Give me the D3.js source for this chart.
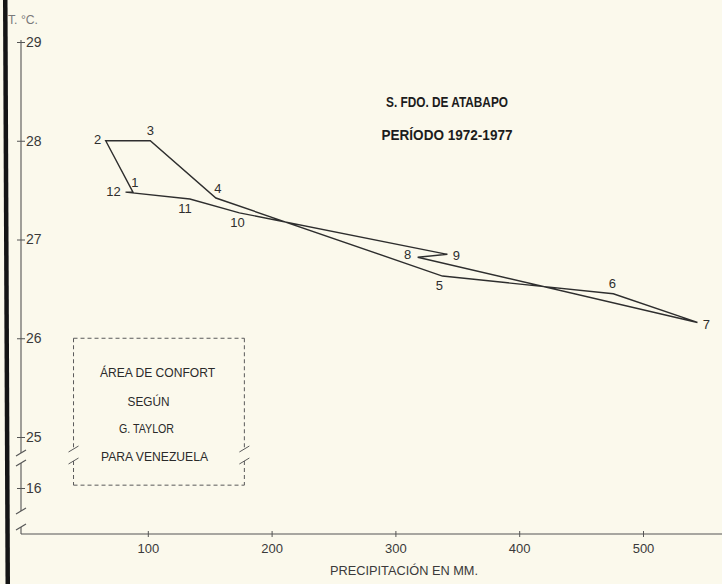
<!DOCTYPE html>
<html>
<head>
<meta charset="utf-8">
<script src="https://cdn.jsdelivr.net/npm/d3@7/dist/d3.min.js"></script>
<style>
  body { margin: 0; background: #fbf9ec; }
  svg { display: block; }
</style>
</head>
<body>
<svg width="722" height="584"></svg>
<script>
// monthly means, S. Fdo. de Atabapo 1972-1977
var months = ["1", "2", "3", "4", "5", "6", "7", "8", "9", "10", "11", "12"];
var precipitation = [88, 66, 102, 155, 338, 476, 544, 318, 342, 174, 134, 82];
var temperature = [27.48, 28.0, 28.0, 27.42, 26.63, 26.45, 26.16, 26.82, 26.85, 27.27, 27.41, 27.48];

var xTicks = [100, 200, 300, 400, 500];
var yTicks = [16, 25, 26, 27, 28, 29];

// comfort area (G. Taylor)
var comfortPrecip = [40, 178];
var comfortTemp = [16.5, 26];
var comfortText = ["ÁREA DE CONFORT", "SEGÚN", "G. TAYLOR", "PARA VENEZUELA"];

var titleLines = ["S. FDO. DE ATABAPO", "PERÍODO 1972-1977"];
var xTitle = "PRECIPITACIÓN EN MM.";
var yTitle = "T. °C.";

var drawClimograph = function() {
  let svg = d3.select("svg");
  let ink = "#2e2e2e";
  let font = "'Liberation Sans', Arial, sans-serif";

  svg.append("rect")
    .attr("width", 722).attr("height", 584)
    .attr("fill", "#fbf9ec");

  // dark page edge on the left of the scan
  svg.append("path")
    .attr("d", "M3,0L7.5,0L10,584L5.5,584Z")
    .attr("fill", "#151515");

  let axisX = 21;
  let axisY = 534;

  let xScale = d3.scaleLinear()
    .domain([0, 500])
    .range([24, 643]);

  // broken axis: 16 sits just under the 25-29 block
  let yScale = d3.scaleLinear()
    .domain([16, 25, 29])
    .range([488, 437, 42]);

  // y axis, drawn in pieces with break marks
  let segs = [[40, 453], [463, 511], [527, axisY]];
  svg.selectAll(".yseg")
    .data(segs)
    .enter().append("line")
    .attr("class", "yseg")
    .attr("x1", axisX).attr("x2", axisX)
    .attr("y1", function(d) { return d[0]; })
    .attr("y2", function(d) { return d[1]; })
    .attr("stroke", "#555").attr("stroke-width", 1.1);

  let breaks = [453, 463, 511, 527];
  svg.selectAll(".ybreak")
    .data(breaks)
    .enter().append("path")
    .attr("class", "ybreak")
    .attr("d", function(d) {
      return "M" + (axisX - 5) + "," + (d + 3) + "L" + (axisX + 5) + "," + (d - 3);
    })
    .attr("fill", "none")
    .attr("stroke", "#555").attr("stroke-width", 1.1);

  let yAxis = d3.axisRight(yScale)
    .tickValues(yTicks)
    .tickSize(4)
    .tickPadding(1)
    .tickFormat(d3.format("d"));

  let yGroup = svg.append("g")
    .attr("transform", "translate(" + axisX + ",0)")
    .call(yAxis);
  yGroup.select(".domain").remove();
  yGroup.selectAll(".tick line")
    .attr("x1", -4)
    .attr("stroke", "#555");
  yGroup.selectAll("text")
    .style("font-family", font)
    .style("font-size", "14px")
    .attr("fill", "#3a3a3a");

  // x axis
  svg.append("line")
    .attr("x1", axisX).attr("x2", 722)
    .attr("y1", axisY).attr("y2", axisY)
    .attr("stroke", "#555").attr("stroke-width", 1.1);

  let xAxis = d3.axisBottom(xScale)
    .tickValues(xTicks)
    .tickSize(3)
    .tickPadding(7);

  let xGroup = svg.append("g")
    .attr("transform", "translate(0," + axisY + ")")
    .call(xAxis);
  xGroup.select(".domain").remove();
  xGroup.selectAll(".tick line")
    .attr("y1", -3)
    .attr("stroke", "#555");
  xGroup.selectAll("text")
    .style("font-family", font)
    .style("font-size", "13px")
    .attr("fill", "#3a3a3a");

  svg.append("text")
    .attr("x", 404).attr("y", 575)
    .attr("text-anchor", "middle")
    .attr("textLength", 148).attr("lengthAdjust", "spacingAndGlyphs")
    .style("font-family", font).style("font-size", "13.5px")
    .attr("fill", "#3a3a3a")
    .text(xTitle);

  svg.append("text")
    .attr("x", 8).attr("y", 24)
    .attr("textLength", 30).attr("lengthAdjust", "spacingAndGlyphs")
    .style("font-family", font).style("font-size", "12px")
    .attr("fill", "#7a7a7a")
    .text(yTitle);

  // title
  svg.selectAll(".title")
    .data(titleLines)
    .enter().append("text")
    .attr("class", "title")
    .attr("x", 447)
    .attr("y", function(d, i) { return 107 + i * 33; })
    .attr("text-anchor", "middle")
    .attr("textLength", function(d, i) { return i == 0 ? 122 : 131; })
    .attr("lengthAdjust", "spacingAndGlyphs")
    .style("font-family", font).style("font-size", "14px")
    .style("font-weight", "bold")
    .attr("fill", "#1c1c1c")
    .text(function(d) { return d; });

  // comfort area box, dashed with a break on the sides
  let bx0 = xScale(comfortPrecip[0]);
  let bx1 = xScale(comfortPrecip[1]);
  let by0 = yScale(comfortTemp[1]);
  let by1 = yScale(comfortTemp[0]);
  let gapTop = 449;
  let gapBot = 461;

  let boxLines = [
    [bx0, by0, bx1, by0],
    [bx0, by1, bx1, by1],
    [bx0, by0, bx0, gapTop],
    [bx0, gapBot, bx0, by1],
    [bx1, by0, bx1, gapTop],
    [bx1, gapBot, bx1, by1]
  ];
  svg.selectAll(".box")
    .data(boxLines)
    .enter().append("line")
    .attr("class", "box")
    .attr("x1", function(d) { return d[0]; })
    .attr("y1", function(d) { return d[1]; })
    .attr("x2", function(d) { return d[2]; })
    .attr("y2", function(d) { return d[3]; })
    .attr("stroke", "#5a5a5a")
    .attr("stroke-width", 1)
    .attr("stroke-dasharray", "4,3");

  let boxBreaks = [[bx0, gapTop], [bx0, gapBot], [bx1, gapTop], [bx1, gapBot]];
  svg.selectAll(".boxbreak")
    .data(boxBreaks)
    .enter().append("path")
    .attr("class", "boxbreak")
    .attr("d", function(d) {
      return "M" + (d[0] - 5) + "," + (d[1] + 3) + "L" + (d[0] + 5) + "," + (d[1] - 3);
    })
    .attr("fill", "none")
    .attr("stroke", "#5a5a5a").attr("stroke-width", 1);

  let boxTextX = [84, 75, 73, 81];
  let boxTextY = [377, 406, 433, 461];
  let boxTextW = [115, 42, 55, 107];
  svg.selectAll(".boxtext")
    .data(comfortText)
    .enter().append("text")
    .attr("class", "boxtext")
    .attr("x", function(d, i) { return bx0 + boxTextX[i]; })
    .attr("y", function(d, i) { return boxTextY[i]; })
    .attr("text-anchor", "middle")
    .attr("textLength", function(d, i) { return boxTextW[i]; })
    .attr("lengthAdjust", "spacingAndGlyphs")
    .style("font-family", font).style("font-size", "13px")
    .attr("fill", "#2a2a2a")
    .text(function(d) { return d; });

  // the monthly loop
  let pts = precipitation.map(function(p, i) { return [p, temperature[i]]; });

  let line = d3.line()
    .x(function(d) { return xScale(d[0]); })
    .y(function(d) { return yScale(d[1]); })
    .curve(d3.curveLinearClosed);

  svg.append("path")
    .datum(pts)
    .attr("d", line)
    .attr("fill", "none")
    .attr("stroke", ink)
    .attr("stroke-width", 1.4)
    .attr("stroke-linejoin", "miter");

  // where each month number sits around its vertex
  let labelOffset = [
    [2, -10], [-8, -1], [0, -10], [2, -10], [-3, 9], [-1, -10],
    [9, 2], [-10, -3], [9, 1], [-2, 9], [-5, 9], [-12, -1]
  ];

  svg.selectAll(".month")
    .data(months)
    .enter().append("text")
    .attr("class", "month")
    .attr("x", function(d, i) { return xScale(precipitation[i]) + labelOffset[i][0]; })
    .attr("y", function(d, i) { return yScale(temperature[i]) + labelOffset[i][1]; })
    .attr("dy", "0.36em")
    .attr("text-anchor", "middle")
    .style("font-family", font).style("font-size", "13px")
    .attr("fill", ink)
    .text(function(d) { return d; });
};

drawClimograph();
</script>
</body>
</html>
